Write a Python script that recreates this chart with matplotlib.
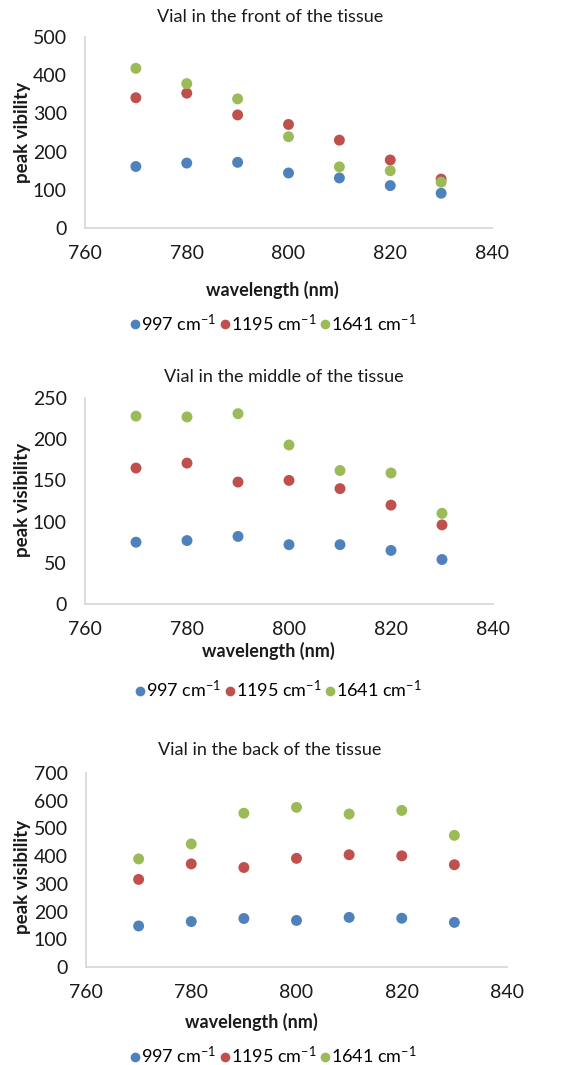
import matplotlib
matplotlib.use("Agg")
import matplotlib.pyplot as plt
from matplotlib.lines import Line2D

plt.rcParams['font.family'] = ['Lato', 'DejaVu Sans']
plt.rcParams['mathtext.default'] = 'regular'

wavelength = [770, 780, 790, 800, 810, 820, 830]
series_names = ["997 cm$^{-1}$", "1195 cm$^{-1}$", "1641 cm$^{-1}$"]
colors = ["#4F81BD", "#C0504D", "#9BBB59"]

# peak visibility per panel, series order 997 / 1195 / 1641
front_997 = [161, 170, 172, 144, 131, 111, 91]
front_1195 = [341, 353, 296, 271, 230, 178, 128]
front_1641 = [418, 378, 338, 239, 160, 150, 120]

middle_997 = [75, 77, 82, 72, 72, 65, 54]
middle_1195 = [165, 171, 148, 150, 140, 120, 96]
middle_1641 = [228, 227, 231, 193, 162, 159, 110]

back_997 = [148, 164, 175, 168, 179, 176, 161]
back_1195 = [316, 372, 359, 392, 405, 401, 369]
back_1641 = [390, 444, 555, 576, 552, 565, 475]

titles = ["Vial in the front of the tissue", "Vial in the middle of the tissue",
          "Vial in the back of the tissue"]
ylabels = ["peak vibility", "peak visibility", "peak visibility"]
ymax = [500, 250, 700]
ystep = [100, 50, 100]

W, H = 569, 1065
fig = plt.figure(figsize=(W / 100, H / 100), dpi=100)

# pixel layout: axes (l, t, r, b), title (x, y), xlabel (x, y), legend (x, y), ylabel y
layout = [
    dict(ax=(85, 37, 492, 228), title=(270, 17), xl=(272, 290), leg=(272, 323), yl=132),
    dict(ax=(85, 398, 493, 604), title=(284, 377), xl=(268, 651), leg=(277, 690), yl=500),
    dict(ax=(86, 773, 507, 967), title=(270, 750), xl=(251, 1022), leg=(272, 1056), yl=877),
]
data = [
    [front_997, front_1195, front_1641],
    [middle_997, middle_1195, middle_1641],
    [back_997, back_1195, back_1641],
]

for i, lay in enumerate(layout):
    l, t, r, b = lay["ax"]
    ax = fig.add_axes([l / W, 1 - b / H, (r - l) / W, (b - t) / H])
    for vals, c in zip(data[i], colors):
        ax.scatter(wavelength, vals, s=62, color=c, edgecolors='none', zorder=3)
    ax.set_xlim(760, 840)
    ax.set_ylim(0, ymax[i])
    ax.set_xticks(range(760, 841, 20))
    ax.set_yticks(range(0, ymax[i] + 1, ystep[i]))
    for side in ["top", "right"]:
        ax.spines[side].set_visible(False)
    for side in ["left", "bottom"]:
        ax.spines[side].set_color("#d9d9d9")
        ax.spines[side].set_linewidth(1.3)
    ax.tick_params(length=0, labelsize=14, colors="#1a1a1a")
    ax.tick_params(axis='x', pad=12)
    ax.tick_params(axis='y', pad=13)
    ax.patch.set_alpha(0)

    fig.text(lay["title"][0] / W, 1 - lay["title"][1] / H, titles[i],
             ha='center', va='center', fontsize=13, color="#1a1a1a")
    fig.text(lay["xl"][0] / W, 1 - lay["xl"][1] / H, "wavelength (nm)",
             ha='center', va='center', fontsize=13, fontweight='bold', color="#1a1a1a")
    fig.text(23 / W, 1 - lay["yl"] / H, ylabels[i], rotation=90,
             ha='center', va='center', fontsize=13.5, fontweight='bold', color="#1a1a1a")

    handles = [Line2D([], [], marker='o', linestyle='none', markersize=7,
                      markerfacecolor=c, markeredgecolor='none') for c in colors]
    fig.legend(handles, series_names, loc='center',
               bbox_to_anchor=(lay["leg"][0] / W, 1 - lay["leg"][1] / H),
               ncol=3, frameon=False, fontsize=13, handletextpad=-0.1,
               columnspacing=0.0, handlelength=0.9, borderpad=0)

fig.savefig("out.png", dpi=100)
